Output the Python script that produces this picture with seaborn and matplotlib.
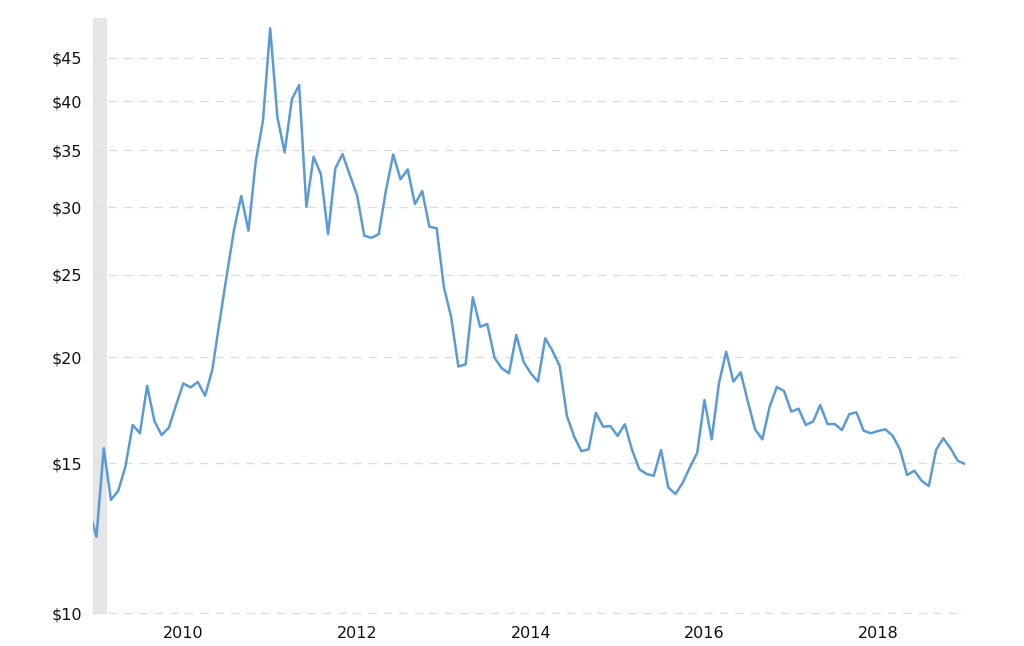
import matplotlib
matplotlib.use("Agg")
import matplotlib.pyplot as plt
import matplotlib.ticker as mticker
import numpy as np
import pandas as pd
import seaborn as sns

# Monthly prices, Dec 2008 .. Jan 2019
start_year = 2008
start_month = 12
prices = [
    13.2,
    # 2009
    12.30, 15.63, 13.59, 13.93, 14.87, 16.65, 16.28, 18.51, 16.83, 16.20, 16.53, 17.57,
    # 2010
    18.63, 18.43, 18.70, 18.02, 19.32, 22.00, 24.98, 28.22, 30.94, 28.17, 33.95, 37.93,
    # 2011
    48.71, 38.28, 34.82, 40.22, 41.78, 30.05, 34.41, 32.83, 27.91, 33.34, 34.66, 32.75,
    # 2012
    31.02, 27.79, 27.63, 27.91, 31.44, 34.63, 32.37, 33.25, 30.27, 31.36, 28.47, 28.35,
    # 2013
    24.18, 22.30, 19.50, 19.62, 23.52, 21.72, 21.88, 19.97, 19.41, 19.15, 21.24, 19.76,
    # 2014
    19.15, 18.72, 21.05, 20.35, 19.53, 17.06, 16.13, 15.51, 15.59, 17.21, 16.57, 16.60,
    # 2015
    16.16, 16.68, 15.56, 14.77, 14.58, 14.51, 15.56, 14.06, 13.81, 14.24, 14.85, 15.44,
    # 2016
    17.81, 16.01, 18.63, 20.30, 18.72, 19.20, 17.73, 16.45, 16.01, 17.48, 18.45, 18.25,
    # 2017
    17.26, 17.40, 16.65, 16.80, 17.57, 16.69, 16.69, 16.42, 17.14, 17.23, 16.39, 16.28,
    # 2018
    16.38, 16.45, 16.17, 15.59, 14.54, 14.71, 14.32, 14.11, 15.56, 16.06, 15.63, 15.11,
    # 2019
    14.98,
]
y_ticks = [10, 15, 20, 25, 30, 35, 40, 45]
y_tick_labels = ["$10", "$15", "$20", "$25", "$30", "$35", "$40", "$45"]
x_ticks = [2010, 2012, 2014, 2016, 2018]
x_tick_labels = ["2010", "2012", "2014", "2016", "2018"]
shade_start = 2008.96
shade_end = 2009.125

n = len(prices)
t = [start_year + (start_month - 1 + i) / 12.0 for i in range(n)]
df = pd.DataFrame({"t": t, "price": prices})

sns.set_style("white")
plt.rcParams["font.family"] = ["DejaVu Sans"]

fig = plt.figure(figsize=(10.24, 6.46), dpi=100)
ax = fig.add_axes([93 / 1024, 1 - 614 / 646, (965 - 93) / 1024, (614 - 18) / 646])

ax.axvspan(shade_start, shade_end, color="#e6e6e6", zorder=0, lw=0)

sns.lineplot(data=df, x="t", y="price", ax=ax, color="#5b9bd5", linewidth=1.8, zorder=3)

ax.set_yscale("log")
ax.set_ylim(9.98, 50.1)
ax.set_xlim(2008.96, 2019.0)

ax.yaxis.set_major_locator(mticker.FixedLocator(y_ticks))
ax.yaxis.set_major_formatter(mticker.FixedFormatter(y_tick_labels))
ax.yaxis.set_minor_locator(mticker.NullLocator())
ax.xaxis.set_major_locator(mticker.FixedLocator(x_ticks))
ax.xaxis.set_major_formatter(mticker.FixedFormatter(x_tick_labels))

ax.grid(axis="y", color="#dcdcdc", linestyle=(0, (6, 5)), linewidth=1.0, zorder=1)
ax.grid(axis="x", visible=False)
for s in ax.spines.values():
    s.set_visible(False)

ax.tick_params(axis="y", length=0, pad=8, labelsize=11.5, labelcolor="#111111")
ax.tick_params(axis="x", length=0, pad=9, labelsize=11.5, labelcolor="#111111")
ax.set_xlabel("")
ax.set_ylabel("")

fig.savefig("out.png", dpi=100)
